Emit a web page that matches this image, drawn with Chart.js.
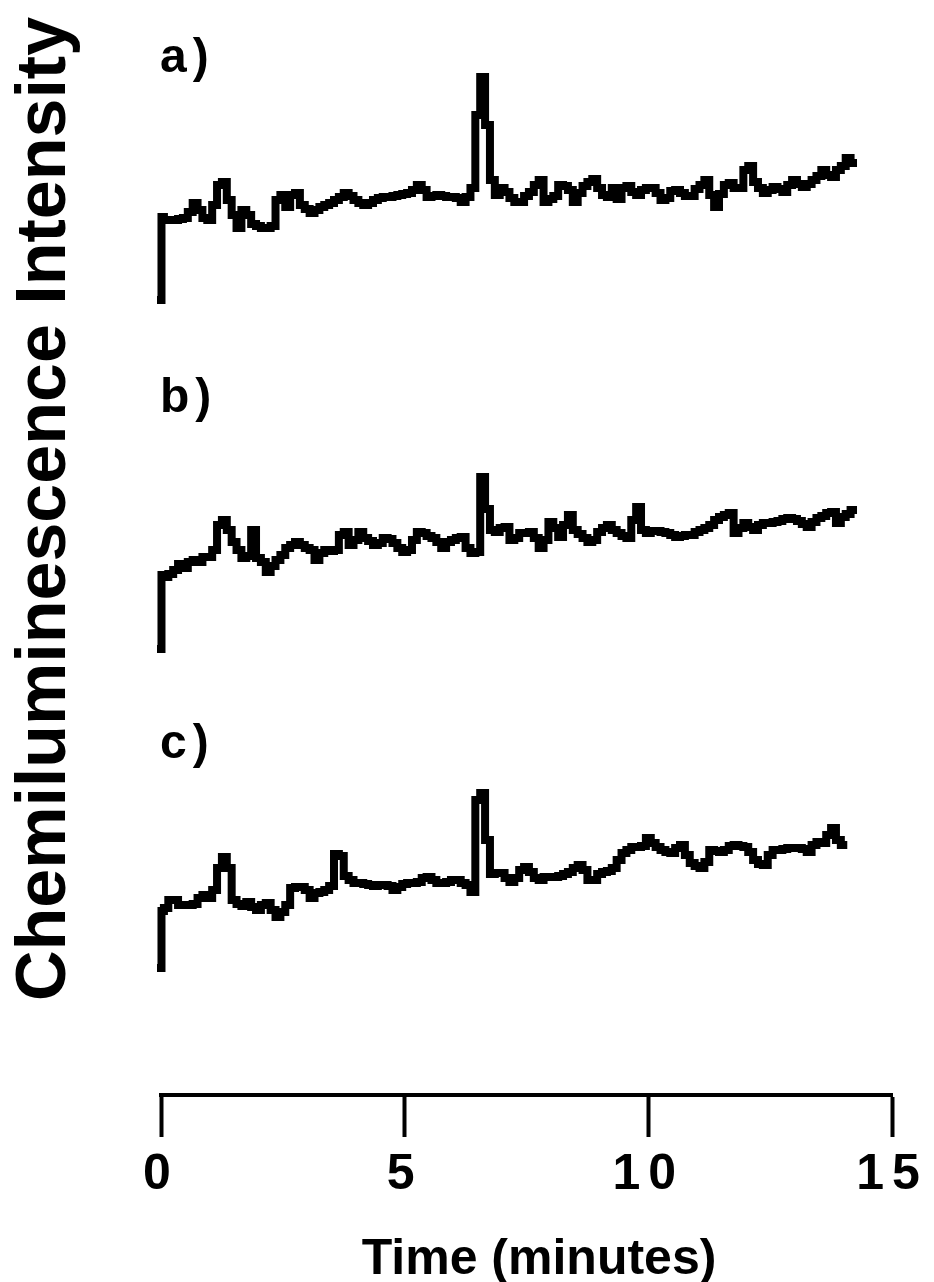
<!DOCTYPE html>
<html>
<head>
<meta charset="utf-8">
<script src="https://cdn.jsdelivr.net/npm/chart.js@4/dist/chart.umd.min.js"></script>
<style>
  html, body { margin: 0; padding: 0; background: #ffffff; }
  #wrap { position: relative; width: 934px; height: 1282px; }
</style>
</head>
<body>
<div id="wrap"><canvas id="chart"></canvas></div>
<script>
// Sampling times (minutes)
const minutes = [
  0, 0.02, 0.1, 0.2, 0.3, 0.4, 0.5, 0.6, 0.7, 0.8, 0.9, 1.0,
  1.1, 1.2, 1.3, 1.4, 1.5, 1.6, 1.7, 1.8, 1.9, 2.0,
  2.1, 2.2, 2.3, 2.4, 2.5, 2.6, 2.7, 2.8, 2.9, 3.0,
  3.1, 3.2, 3.3, 3.4, 3.5, 3.6, 3.7, 3.8, 3.9, 4.0,
  4.1, 4.2, 4.3, 4.4, 4.5, 4.6, 4.7, 4.8, 4.9, 5.0,
  5.1, 5.2, 5.3, 5.4, 5.5, 5.6, 5.7, 5.8, 5.9, 6.0,
  6.1, 6.2, 6.3, 6.4, 6.5, 6.6, 6.7, 6.8, 6.9, 7.0,
  7.1, 7.2, 7.3, 7.4, 7.5, 7.6, 7.7, 7.8, 7.9, 8.0,
  8.1, 8.2, 8.3, 8.4, 8.5, 8.6, 8.7, 8.8, 8.9, 9.0,
  9.1, 9.2, 9.3, 9.4, 9.5, 9.6, 9.7, 9.8, 9.9, 10.0,
  10.1, 10.2, 10.3, 10.4, 10.5, 10.6, 10.7, 10.8, 10.9, 11.0,
  11.1, 11.2, 11.3, 11.4, 11.5, 11.6, 11.7, 11.8, 11.9, 12.0,
  12.1, 12.2, 12.3, 12.4, 12.5, 12.6, 12.7, 12.8, 12.9, 13.0,
  13.1, 13.2, 13.3, 13.4, 13.5, 13.6, 13.7, 13.8, 13.9, 14.0,
  14.1, 14.2
];

// Chemiluminescence intensity (arbitrary units) for each sample
const traceA = [
  0, 83, 80, 80, 80, 81, 82, 88, 97, 90, 82, 80,
  95, 115, 118, 100, 85, 72, 90, 85, 76, 74,
  72, 72, 74, 100, 105, 93, 105, 107, 95, 91,
  87, 90, 93, 95, 97, 100, 103, 107, 104, 100,
  97, 95, 97, 100, 102, 103, 103, 104, 105, 106,
  107, 110, 115, 110, 103, 104, 105, 104, 103, 103,
  102, 98, 103, 112, 185, 223, 175, 120, 105, 112,
  108, 102, 98, 98, 104, 108, 115, 120, 98, 101,
  104, 115, 114, 110, 98, 107, 114, 118, 121, 112,
  105, 103, 112, 101, 112, 114, 108, 105, 110, 112,
  112, 107, 100, 102, 109, 110, 107, 104, 104, 111,
  115, 120, 105, 93, 106, 115, 117, 112, 112, 130,
  134, 118, 112, 107, 110, 113, 111, 108, 115, 120,
  116, 113, 116, 120, 124, 130, 125, 123, 130, 134,
  142, 137
];

const traceB = [
  0, 74, 72, 75, 79, 85, 81, 87, 89, 87, 92, 92,
  99, 124, 129, 119, 107, 99, 91, 93, 119, 91,
  87, 77, 83, 89, 94, 101, 104, 107, 104, 101,
  99, 89, 96, 99, 98, 99, 114, 117, 104, 109,
  117, 111, 108, 104, 106, 111, 110, 106, 101, 97,
  99, 109, 117, 116, 113, 111, 107, 101, 107, 109,
  111, 112, 101, 96, 97, 172, 140, 119, 117, 121,
  122, 109, 111, 116, 116, 117, 111, 101, 109, 127,
  121, 112, 124, 134, 119, 115, 111, 107, 109, 117,
  121, 124, 119, 116, 113, 111, 129, 142, 119, 116,
  118, 118, 117, 116, 114, 112, 113, 114, 114, 117,
  119, 121, 124, 129, 132, 134, 136, 116, 121, 126,
  122, 119, 124, 126, 126, 127, 128, 130, 131, 130,
  128, 125, 122, 127, 131, 133, 136, 137, 126, 132,
  135, 139
];

const traceC = [
  0, 57, 60, 68, 68, 63, 63, 63, 64, 70, 73, 70,
  78, 100, 111, 100, 68, 64, 62, 66, 61, 58,
  63, 65, 58, 51, 56, 63, 80, 81, 81, 78,
  70, 75, 76, 78, 82, 114, 112, 92, 88, 85,
  85, 84, 83, 82, 83, 83, 82, 78, 81, 84,
  85, 85, 86, 90, 91, 88, 85, 85, 86, 88,
  88, 85, 83, 76, 168, 175, 128, 94, 95, 95,
  90, 86, 90, 98, 101, 96, 90, 88, 91, 91,
  91, 92, 94, 96, 100, 103, 98, 88, 88, 94,
  96, 97, 100, 108, 115, 118, 121, 121, 122, 130,
  125, 121, 118, 116, 115, 120, 123, 113, 105, 102,
  100, 106, 118, 117, 116, 118, 122, 123, 122, 121,
  116, 108, 104, 103, 113, 118, 118, 119, 120, 120,
  120, 119, 116, 123, 126, 125, 133, 140, 128, 123
];

const panelLabels = ['a)', 'b)', 'c)'];
const timeTicks = [0, 5, 10, 15];
const xTitle = 'Time (minutes)';
const yTitle = 'Chemiluminescence Intensity';

// Vertical offset of each trace on the shared intensity axis (stacked display)
const traceOffsets = [795, 446, 127];

const FONT = '"Liberation Sans", Arial, Helvetica, sans-serif';

function series(values, offset) {
  return values.map((v, i) => ({ x: minutes[i], y: v + offset }));
}

const traces = [traceA, traceB, traceC];

const datasets = traces.map((vals, k) => ({
  label: panelLabels[k],
  data: series(vals, traceOffsets[k]),
  borderColor: '#000000',
  borderWidth: 8,
  borderCapStyle: 'square',
  borderJoinStyle: 'miter',
  stepped: 'middle',
  pointRadius: 0,
  fill: false,
  clip: false
}));

// Text decorations: panel letters, axis titles, spaced tick labels
const decorations = {
  id: 'decorations',
  beforeDraw(chart) {
    chart.ctx.letterSpacing = '8px';
  },
  beforeDatasetsDraw(chart) {
    chart.ctx.letterSpacing = '0px';
  },
  afterDraw(chart) {
    const { ctx, chartArea } = chart;
    ctx.save();
    ctx.fillStyle = '#000000';

    // panel letters
    ctx.letterSpacing = '6px';
    ctx.font = 'bold 48px ' + FONT;
    ctx.textAlign = 'left';
    ctx.textBaseline = 'alphabetic';
    const labelBase = [72, 412, 758];
    panelLabels.forEach((t, k) => ctx.fillText(t, chartArea.left - 1, labelBase[k]));

    // x title
    ctx.letterSpacing = '0px';
    ctx.font = 'bold 50px ' + FONT;
    ctx.textAlign = 'center';
    ctx.fillText(xTitle, 539, 1274);

    // y title
    ctx.font = 'bold 70px ' + FONT;
    ctx.translate(65, 509);
    ctx.rotate(-Math.PI / 2);
    ctx.fillText(yTitle, 0, 0);
    ctx.restore();
  }
};

new Chart(document.getElementById('chart'), {
  type: 'line',
  data: { datasets },
  options: {
    responsive: true,
    maintainAspectRatio: false,
    animation: false,
    events: [],
    layout: { padding: { left: 161, right: 42, top: 60, bottom: 0 } },
    plugins: { legend: { display: false }, tooltip: { enabled: false }, title: { display: false } },
    scales: {
      x: {
        type: 'linear',
        min: 0,
        max: 15,
        afterBuildTicks: (s) => { s.ticks = timeTicks.map(v => ({ value: v })); },
        afterFit: (s) => { s.height = 187; },
        ticks: {
          autoSkip: false,
          maxRotation: 0,
          padding: 8,
          color: '#000000',
          font: { family: FONT, size: 50, weight: 'bold' }
        },
        grid: {
          drawOnChartArea: false,
          drawTicks: true,
          tickLength: 42,
          tickWidth: 4,
          tickColor: '#000000'
        },
        border: { display: true, color: '#000000', width: 4 }
      },
      y: {
        type: 'linear',
        display: false,
        min: 0,
        max: 1035
      }
    }
  },
  plugins: [decorations]
});
</script>
</body>
</html>
